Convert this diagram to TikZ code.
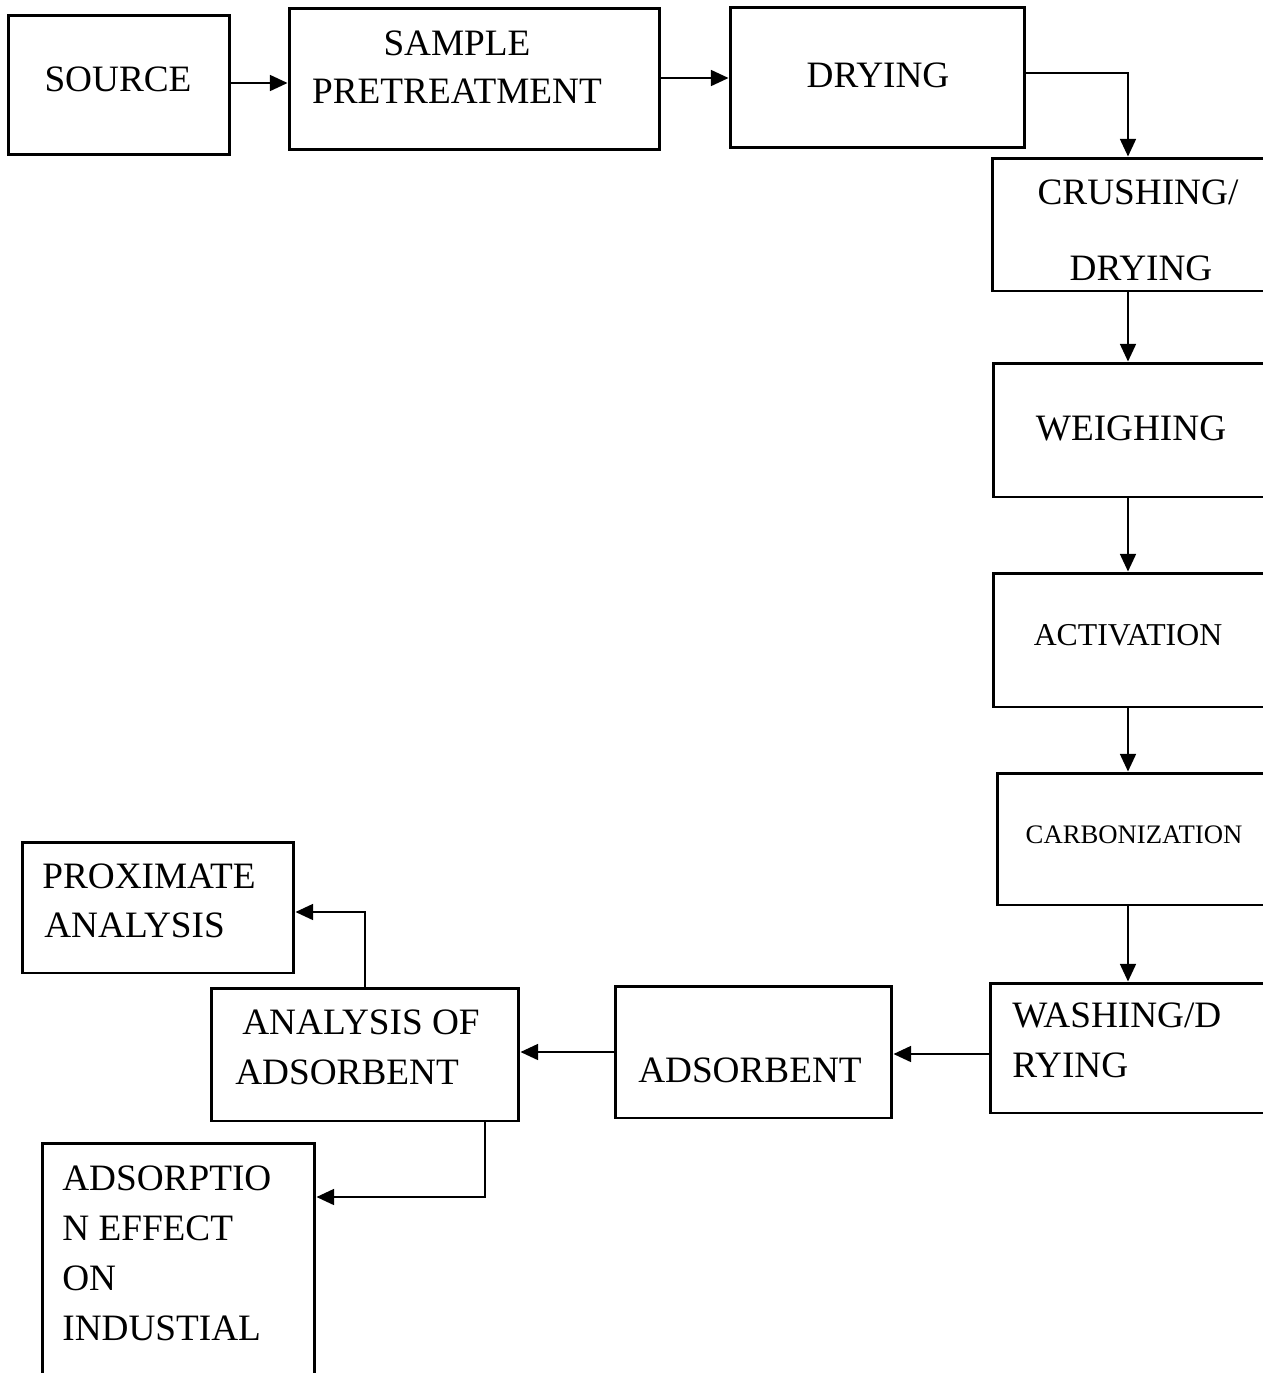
\documentclass[tikz,border=0pt]{standalone}
\usepackage{fontspec}
\setmainfont{Liberation Serif}
\usetikzlibrary{arrows.meta}
\begin{document}
\begin{tikzpicture}[x=0.02cm,y=-0.02cm,
  box/.style={draw,line width=1.7pt,rectangle,inner sep=0pt},
  lbl/.style={inner sep=0pt,font=\fontsize{21.2}{25}\selectfont},
  arr/.style={line width=1.2pt,-{Triangle[length=10pt,width=9pt]}}]
\useasboundingbox (0,0) rectangle (1263,1373);
\clip (0,0) rectangle (1263,1373);
\fill[white] (0,0) rectangle (1263,1373);
% boxes
\node[box,minimum width=4.44cm,minimum height=2.80cm] (source) at (119,85) {};
\node[box,minimum width=7.42cm,minimum height=2.84cm] (pre) at (474.5,79) {};
\node[box,minimum width=5.90cm,minimum height=2.82cm] (dry) at (877.5,77.5) {};
\node[box,minimum width=5.66cm,minimum height=2.66cm] (crush) at (1133.5,224.5) {};
\node[box,minimum width=5.64cm,minimum height=2.68cm] (weigh) at (1134,430) {};
\node[box,minimum width=5.64cm,minimum height=2.68cm] (activ) at (1134,640) {};
\node[box,minimum width=5.56cm,minimum height=2.64cm] (carb) at (1136,839) {};
\node[box,minimum width=5.70cm,minimum height=2.60cm] (wash) at (1132.5,1048) {};
\node[box,minimum width=5.54cm,minimum height=2.64cm] (ads) at (753.5,1052) {};
\node[box,minimum width=6.16cm,minimum height=2.66cm] (anal) at (365,1054.5) {};
\node[box,minimum width=5.44cm,minimum height=2.62cm] (prox) at (158,907.5) {};
\node[box,minimum width=5.46cm,minimum height=4.84cm] (adsp) at (178.5,1264) {};
% texts
\node[lbl,anchor=base] (t1) at (118,91) {SOURCE};
\node[lbl,anchor=base] (t2a) at (457,55) {SAMPLE};
\node[lbl,anchor=base] (t2b) at (457,103) {PRETREATMENT};
\node[lbl,anchor=base] (t3) at (878,87) {DRYING};
\node[lbl,anchor=base] (t4a) at (1138,204) {CRUSHING/};
\node[lbl,anchor=base] (t4b) at (1141,280) {DRYING};
\node[lbl,anchor=base] (t5) at (1131,440) {WEIGHING};
\node[lbl,anchor=base,font=\fontsize{18.1}{21}\selectfont] (t6) at (1128,645) {ACTIVATION};
\node[lbl,anchor=base,font=\fontsize{15.2}{18}\selectfont] (t7) at (1134,843) {CARBONIZATION};
\node[lbl,anchor=base west] (t8a) at (1012,1027) {WASHING/D};
\node[lbl,anchor=base west] (t8b) at (1012,1077) {RYING};
\node[lbl,anchor=base] (t9) at (750,1082) {ADSORBENT};
\node[lbl,anchor=base west] (t10a) at (242,1034) {ANALYSIS OF};
\node[lbl,anchor=base west] (t10b) at (235,1084) {ADSORBENT};
\node[lbl,anchor=base west] (t11a) at (42,888) {PROXIMATE};
\node[lbl,anchor=base west] (t11b) at (44,937) {ANALYSIS};
\node[lbl,anchor=base west] (t12a) at (62,1190) {ADSORPTIO};
\node[lbl,anchor=base west] (t12b) at (62,1240) {N EFFECT};
\node[lbl,anchor=base west] (t12c) at (62,1290) {ON};
\node[lbl,anchor=base west] (t12d) at (62,1340) {INDUSTIAL};
% helper coordinates
\coordinate (ya) at (0,83);
\coordinate (yb) at (0,78);
\coordinate (yc) at (0,73);
\coordinate (xv) at (1128,0);
\coordinate (yd) at (0,1054);
\coordinate (ye) at (0,1052);
\coordinate (yf) at (0,912);
\coordinate (xg) at (485,0);
\coordinate (yg) at (0,1197);
% connectors
\draw[arr] (source.east |- ya) -- (pre.west |- ya);
\draw[arr] (pre.east |- yb) -- (dry.west |- yb);
\draw[arr] (dry.east |- yc) -| (crush.north -| xv);
\draw[arr] (crush.south -| xv) -- (weigh.north -| xv);
\draw[arr] (weigh.south -| xv) -- (activ.north -| xv);
\draw[arr] (activ.south -| xv) -- (carb.north -| xv);
\draw[arr] (carb.south -| xv) -- (wash.north -| xv);
\draw[arr] (wash.west |- yd) -- (ads.east |- yd);
\draw[arr] (ads.west |- ye) -- (anal.east |- ye);
\draw[arr] (anal.north) |- (prox.east |- yf);
\draw[arr] (anal.south -| xg) |- (adsp.east |- yg);
\end{tikzpicture}
\end{document}
